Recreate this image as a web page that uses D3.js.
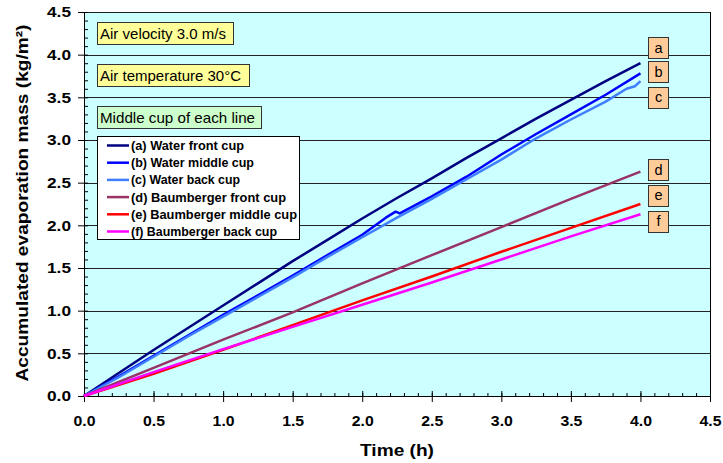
<!DOCTYPE html>
<html>
<head>
<meta charset="utf-8">
<script src="https://cdn.jsdelivr.net/npm/d3@7"></script>
<style>
  body { margin: 0; background: #fff; }
  svg { font-family: Arial, "Liberation Sans", sans-serif; }
  .tick text { font-weight: bold; font-size: 15.5px; fill: #000; }
</style>
</head>
<body>
<svg id="canvas" width="723" height="463"></svg>
<script>
// readings from the picture: [time (h), mass (kg/m2)]
const waterFront = [[0,0],[0.25,0.27],[0.5,0.54],[0.75,0.80],[1.0,1.06],[1.25,1.32],[1.5,1.58],[1.75,1.83],[2.0,2.08],[2.25,2.32],[2.5,2.55],[2.75,2.79],[3.0,3.02],[3.25,3.25],[3.5,3.47],[3.75,3.69],[4.0,3.90]];
const waterMiddle = [[0,0],[0.25,0.23],[0.5,0.47],[0.75,0.71],[1.0,0.95],[1.25,1.18],[1.5,1.41],[1.75,1.65],[2.0,1.89],[2.17,2.09],[2.24,2.16],[2.27,2.14],[2.5,2.34],[2.75,2.57],[3.0,2.83],[3.25,3.07],[3.5,3.30],[3.75,3.53],[4.0,3.78]];
const waterBack = [[0,0],[0.25,0.22],[0.5,0.46],[0.75,0.70],[1.0,0.93],[1.25,1.16],[1.5,1.39],[1.75,1.63],[2.0,1.86],[2.25,2.09],[2.5,2.31],[2.75,2.54],[3.0,2.77],[3.25,3.02],[3.5,3.24],[3.75,3.45],[3.9,3.60],[3.96,3.63],[4.0,3.69]];
const baumFront = [[0,0],[0.5,0.33],[1.0,0.66],[1.5,0.98],[2.0,1.32],[2.5,1.65],[3.0,1.98],[3.5,2.31],[4.0,2.63]];
const baumMiddle = [[0,0],[0.5,0.26],[1.0,0.54],[1.5,0.83],[2.0,1.12],[2.5,1.40],[3.0,1.69],[3.5,1.97],[4.0,2.25]];
const baumBack = [[0,0],[0.5,0.28],[1.0,0.55],[1.5,0.81],[2.0,1.07],[2.5,1.33],[3.0,1.60],[3.5,1.87],[4.0,2.13]];

const seriesNames = ["(a) Water front cup","(b) Water middle cup","(c) Water back cup","(d) Baumberger front cup","(e) Baumberger middle cup","(f) Baumberger back cup"];
const seriesData = [waterFront, waterMiddle, waterBack, baumFront, baumMiddle, baumBack];
const seriesColors = ["#000080","#0000ff","#3f7fff","#993366","#ff0000","#ff00ff"];
const endLabels = ["a","b","c","d","e","f"];
const endLabelY = [4.08, 3.80, 3.50, 2.65, 2.35, 2.05]; // label centres in data units
const notes = ["Air velocity 3.0 m/s","Air temperature 30°C","Middle cup of each line"];
const noteFill = ["#ffff99","#ffff99","#ccffcc"];

const majorTicks = d3.range(0, 4.51, 0.5);
const minorTicks = d3.range(0, 4.501, 0.1);

const svg = d3.select("#canvas");
const pLeft = 84, pRight = 710, pTop = 12, pBottom = 396;

// the original text is drawn a bit wide, stretch it to the measured length
function fit(sel, len) {
  sel.attr("textLength", len).attr("lengthAdjust", "spacingAndGlyphs");
}

let xScale = d3.scaleLinear().domain([0, 4.5]).range([pLeft, pRight]);
let yScale = d3.scaleLinear().domain([0, 4.5]).range([pBottom, pTop]);

// plot background
svg.append("rect")
  .attr("x", pLeft).attr("y", pTop)
  .attr("width", pRight - pLeft).attr("height", pBottom - pTop)
  .attr("fill", "#ccffff");

// horizontal grid
svg.append("g")
  .selectAll("line")
  .data(majorTicks)
  .join("line")
  .attr("x1", pLeft).attr("x2", pRight)
  .attr("y1", d => Math.round(yScale(d)) + 0.5)
  .attr("y2", d => Math.round(yScale(d)) + 0.5)
  .attr("stroke", "#222").attr("stroke-width", 1);

// right border
svg.append("line")
  .attr("x1", pRight + 0.5).attr("x2", pRight + 0.5)
  .attr("y1", pTop).attr("y2", pBottom)
  .attr("stroke", "#000");

// x axis: labels + outside ticks
var x_axis = d3.axisBottom(xScale).tickValues(majorTicks).tickSize(6).tickPadding(13)
  .tickFormat(d3.format(".1f"));
var xline = svg.append("g").attr("transform", "translate(0," + pBottom + ")").call(x_axis);
fit(xline.selectAll("text"), 22);
svg.append("g").attr("transform", "translate(0," + pBottom + ")")
  .call(d3.axisTop(xScale).tickValues(majorTicks).tickSize(5).tickFormat(""));
svg.append("g").attr("transform", "translate(0," + pBottom + ")")
  .call(d3.axisTop(xScale).tickValues(minorTicks).tickSize(3).tickFormat(""));

// y axis
var y_axis = d3.axisLeft(yScale).tickValues(majorTicks).tickSize(6).tickPadding(8)
  .tickFormat(d3.format(".1f"));
var yline = svg.append("g").attr("transform", "translate(" + pLeft + ",0)").call(y_axis);
fit(yline.selectAll("text"), 24);
yline.selectAll("text").attr("x", -13);
svg.append("g").attr("transform", "translate(" + pLeft + ",0)")
  .call(d3.axisRight(yScale).tickValues(minorTicks).tickSize(4).tickFormat(""));

svg.selectAll(".domain").attr("stroke", "#000");
svg.selectAll(".tick line").attr("stroke", "#000");

// axis titles
svg.append("text")
  .attr("x", 397).attr("y", 456)
  .attr("text-anchor", "middle")
  .attr("font-weight", "bold").attr("font-size", 17)
  .text("Time (h)")
  .call(fit, 74);

svg.append("text")
  .attr("transform", "translate(28,203) rotate(-90)")
  .attr("text-anchor", "middle")
  .attr("font-weight", "bold").attr("font-size", 17)
  .text("Accumulated evaporation mass (kg/m²)")
  .call(fit, 357);

// lines
const line = d3.line().x(d => xScale(d[0])).y(d => yScale(d[1]));
svg.append("g")
  .selectAll("path")
  .data(seriesData)
  .join("path")
  .attr("d", line)
  .attr("fill", "none")
  .attr("stroke", (d, i) => seriesColors[i])
  .attr("stroke-width", 2.5)
  .attr("stroke-linejoin", "round");

// note boxes
const noteW = [136, 152, 164];
const noteLen = [126, 141, 155];
notes.forEach((t, i) => {
  const g = svg.append("g").attr("transform", "translate(97," + (22 + i * 42) + ")");
  g.append("rect").attr("x", 0.5).attr("y", 0.5).attr("width", noteW[i]).attr("height", 22)
    .attr("fill", noteFill[i]).attr("stroke", "#333");
  g.append("text").attr("x", 3).attr("y", 16.5).attr("font-size", 14.5).text(t)
    .call(fit, noteLen[i]);
});

// legend
const legLen = [113, 123, 109, 155, 166, 146];
const lg = svg.append("g").attr("transform", "translate(97,136)");
lg.append("rect").attr("x", 0.5).attr("y", 0.5).attr("width", 202).attr("height", 103)
  .attr("fill", "#fff").attr("stroke", "#000");
seriesNames.forEach((n, i) => {
  const yy = 9.5 + i * 17.2;
  lg.append("line").attr("x1", 10).attr("x2", 32).attr("y1", yy).attr("y2", yy)
    .attr("stroke", seriesColors[i]).attr("stroke-width", 2.5);
  lg.append("text").attr("x", 34).attr("y", yy + 4.5)
    .attr("font-weight", "bold").attr("font-size", 12).text(n)
    .call(fit, legLen[i]);
});

// end labels
endLabels.forEach((l, i) => {
  const cy = yScale(endLabelY[i]);
  svg.append("rect").attr("x", 648.5).attr("y", Math.round(cy - 10.5) + 0.5)
    .attr("width", 20).attr("height", 21)
    .attr("fill", "#ffcc99").attr("stroke", "#333");
  svg.append("text").attr("x", 658.5).attr("y", cy + 5)
    .attr("text-anchor", "middle").attr("font-size", 14.5).text(l);
});
</script>
</body>
</html>
